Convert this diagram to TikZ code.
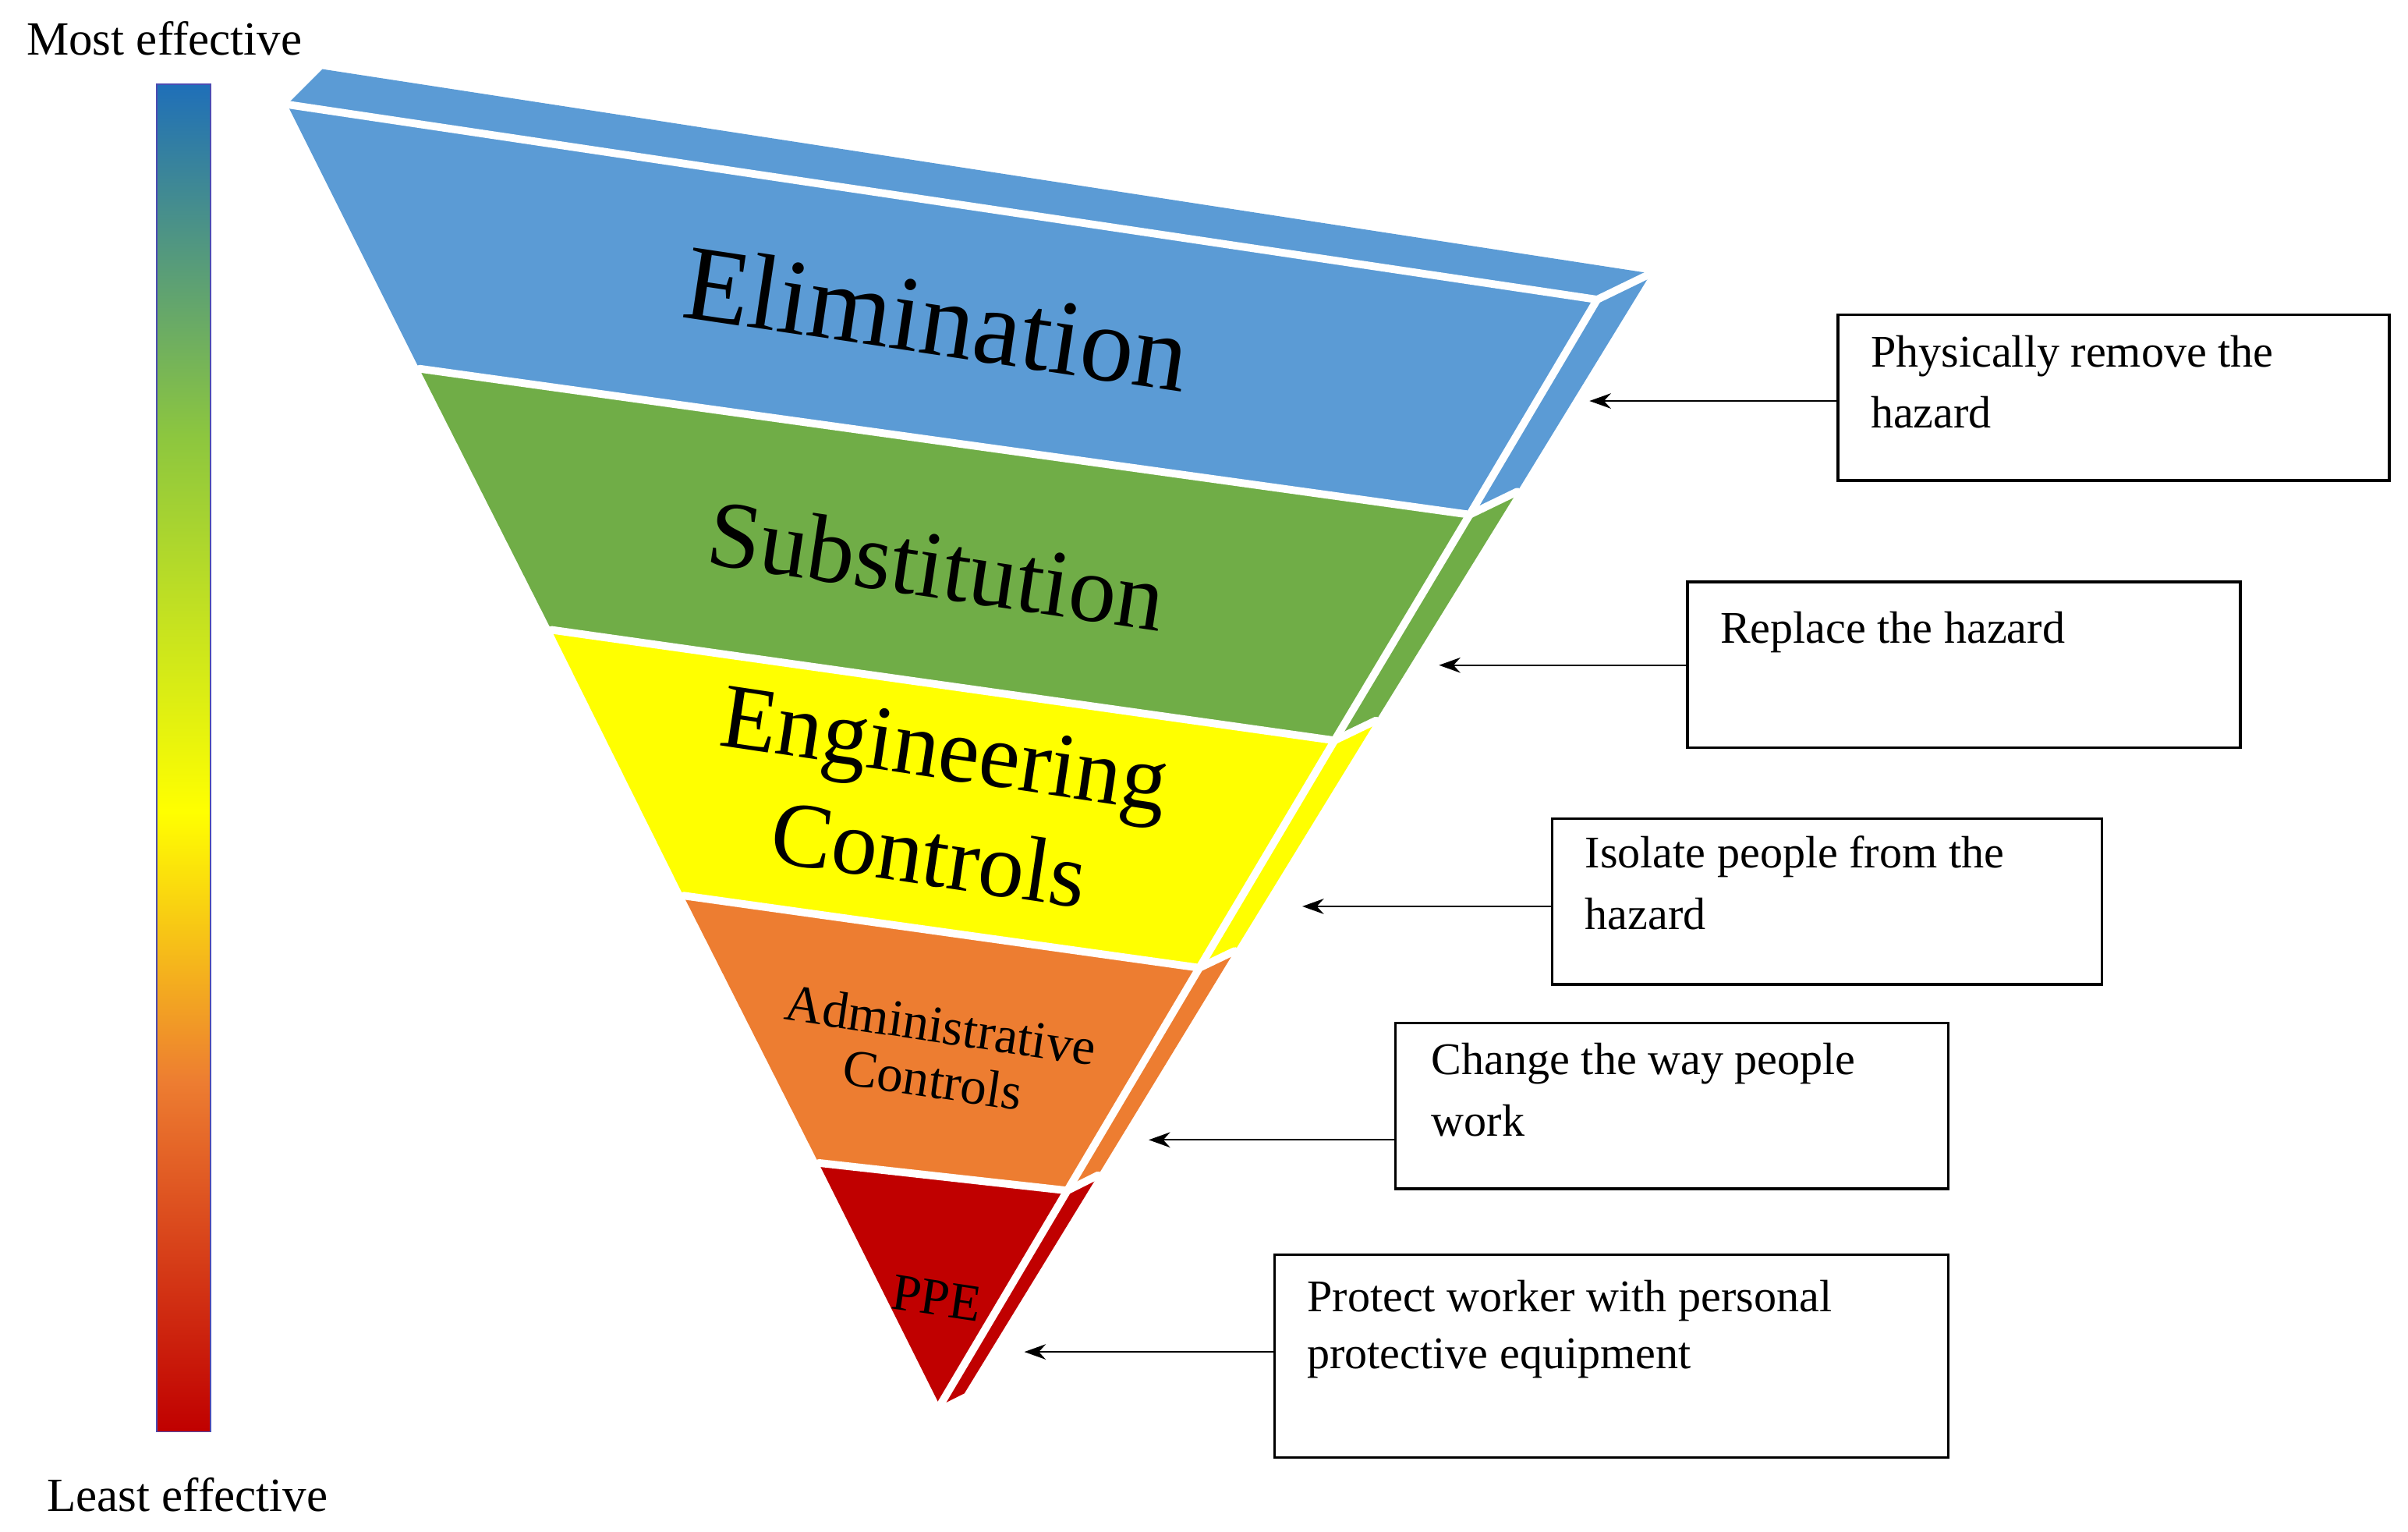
\documentclass[tikz,border=0pt]{standalone}
\usepackage{fontspec}
\setmainfont{Liberation Serif}
\usetikzlibrary{arrows.meta}
\definecolor{elimblue}{HTML}{5B9BD5}
\definecolor{subgreen}{HTML}{70AD47}
\definecolor{engyellow}{HTML}{FFFF00}
\definecolor{adminorange}{HTML}{ED7D31}
\definecolor{ppered}{HTML}{C00000}
\definecolor{barblue}{HTML}{1F6FB8}
\definecolor{bargreen}{HTML}{8CC63F}
\pgfdeclareverticalshading{effbar}{100bp}{
  color(0bp)=(ppered); color(25bp)=(ppered); color(38bp)=(adminorange);
  color(48bp)=(engyellow); color(62bp)=(bargreen);
  color(75bp)=(barblue); color(100bp)=(barblue)}
\begin{document}
\begin{tikzpicture}[x=1pt, y=-1pt,
        gap/.style={white, line width=5pt, line cap=round, line join=round},
        band/.style 2 args={font=\fontsize{#1}{#2}\selectfont, align=center, rotate=-8.5, inner sep=0pt},
        box/.style={draw, line width=1.6pt, minimum width=#1, minimum height=108pt, inner sep=0pt},
        boxtext/.style={anchor=north west, align=left, font=\fontsize{29.5}{40}\selectfont, inner sep=0pt},
        edge/.style={-{Stealth[length=14pt, width=10pt]}, line width=0.9pt}
    ]
    \useasboundingbox (0,0) rectangle (1568,997);
    % scale bar
    \shade[shading=effbar, draw=blue!40!gray, line width=1pt] (102,55) rectangle (137,932);
    \node[font=\fontsize{31}{31}\selectfont] (most) at (107,25) {Most effective};
    \node[font=\fontsize{31}{31}\selectfont] (least) at (122,973) {Least effective};
    % front of the pyramid
    \fill[elimblue] (187,68) -- (1040,195) -- (957,335) -- (273,240) -- cycle;
    \fill[subgreen] (273,240) -- (957,335) -- (869,482) -- (359,410) -- cycle;
    \fill[engyellow] (359,410) -- (869,482) -- (781,630) -- (445,583) -- cycle;
    \fill[adminorange] (445,583) -- (781,630) -- (695,775) -- (533,757) -- cycle;
    \fill[ppered] (533,757) -- (695,775) -- (612,915) -- cycle;
    % top and side faces
    \fill[elimblue] (187,68) -- (210,45) -- (1075,178) -- (1040,195) -- cycle;
    \fill[elimblue] (1040,195) -- (1075,178) -- (988,320) -- (957,335) -- cycle;
    \fill[subgreen] (957,335) -- (988,320) -- (896,469) -- (869,482) -- cycle;
    \fill[engyellow] (869,482) -- (896,469) -- (804,619) -- (781,630) -- cycle;
    \fill[adminorange] (781,630) -- (804,619) -- (715,765) -- (695,775) -- cycle;
    \fill[ppered] (695,775) -- (715,765) -- (628,907) -- (612,915) -- cycle;
    % white gaps
    \draw[gap] (187,68) -- (1040,195) -- (957,335) -- (869,482) -- (781,630) -- (695,775) -- (612,915);
    \draw[gap] (273,240) -- (957,335) -- (988,320);
    \draw[gap] (359,410) -- (869,482) -- (896,469);
    \draw[gap] (445,583) -- (781,630) -- (804,619);
    \draw[gap] (533,757) -- (695,775) -- (715,765);
    \draw[gap] (1040,195) -- (1075,178);
    % band labels
    \node[band={70}{80}] (elim) at (610,207) {Elimination};
    \node[band={62}{72}] (subst) at (610,368) {Substitution};
    \node[band={60}{70}] (eng) at (610,522) {Engineering\\Controls};
    \node[band={34}{36}] (admin) at (610,685) {Administrative\\Controls};
    \node[band={34}{36}] (ppe) at (610,845) {PPE};
    % explanations
    \node[box=359pt, anchor=north west] (boxelim) at (1196,204) {};
    \node[boxtext] (txtelim) at (1218,218) {Physically remove the\\hazard};
    \node[box=360pt, anchor=north west] (boxsubst) at (1098,378) {};
    \node[boxtext] (txtsubst) at (1120,398) {Replace the hazard};
    \node[box=358pt, anchor=north west] (boxeng) at (1010,532) {};
    \node[boxtext] (txteng) at (1032,544) {Isolate people from the\\hazard};
    \node[box=360pt, anchor=north west] (boxadmin) at (908,665) {};
    \node[boxtext] (txtadmin) at (932,679) {Change the way people\\work};
    \node[box=439pt, minimum height=132pt, anchor=north west] (boxppe) at (829,816) {};
    \node[boxtext, font=\fontsize{29.5}{37}\selectfont] (txtppe) at (851,833) {Protect worker with personal\\protective equipment};
    \coordinate (tipelim) at (1035,261);
    \coordinate (tipsubst) at (937,433);
    \coordinate (tipeng) at (848,590);
    \coordinate (tipadmin) at (748,742);
    \coordinate (tipppe) at (667,880);
    \draw[edge] (boxelim.west |- tipelim) -- (tipelim);
    \draw[edge] (boxsubst.west |- tipsubst) -- (tipsubst);
    \draw[edge] (boxeng.west |- tipeng) -- (tipeng);
    \draw[edge] (boxadmin.west |- tipadmin) -- (tipadmin);
    \draw[edge] (boxppe.west |- tipppe) -- (tipppe);
\end{tikzpicture}
\end{document}
